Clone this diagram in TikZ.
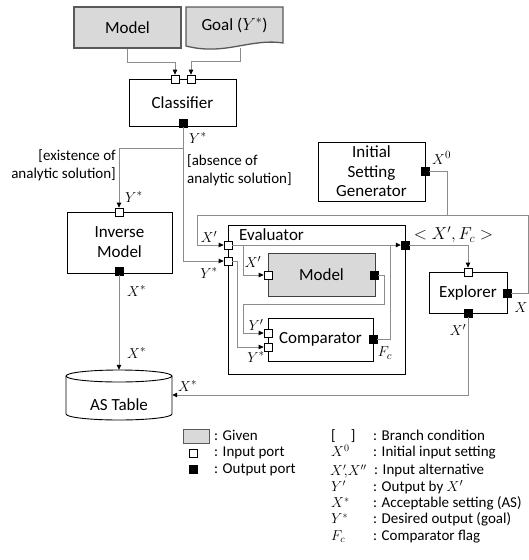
\documentclass[tikz,border=0pt]{standalone}
\usepackage{fontspec}
\setmainfont{Carlito}
\usetikzlibrary{arrows.meta,calc}
\definecolor{givengray}{HTML}{D9D9D9}
\definecolor{linegray}{HTML}{8C8C8C}
\begin{document}
\begin{tikzpicture}[x=1pt,y=-1pt,
  box/.style={draw=black, line width=0.9pt, fill=white, inner sep=0pt, align=center,
              font=\fontsize{17}{20}\selectfont},
  given/.style={box, fill=givengray, draw=black!65, line width=1.3pt},
  inport/.style={draw=black, line width=0.7pt, fill=white, minimum size=8pt, inner sep=0pt},
  outport/.style={draw=black, fill=black, minimum size=8pt, inner sep=0pt},
  conn/.style={draw=linegray, line width=0.8pt},
  arr/.style={conn, -{Triangle[length=5pt,width=4.5pt,color=black]}},
  lbl/.style={font=\fontsize{15}{18}\selectfont, inner sep=1pt},
  txt/.style={font=\fontsize{15}{18}\selectfont, inner sep=0pt},
  leg/.style={font=\fontsize{15}{18}\selectfont, inner sep=0pt, text height=9.5pt, text depth=3pt},
  sym/.style={leg, font=\fontsize{14}{16}\selectfont},
  ]
\useasboundingbox (0,0) rectangle (529,560);

% ---------- given inputs ----------
\node[given, minimum width=107pt, minimum height=41pt] (mtop) at (127.5,27.5) {Model};
\fill[givengray] (186,7) -- (283,7) -- (283,43)
   .. controls (250,38) and (225,56) .. (186,46) -- cycle;
\draw[black!65, line width=1.3pt] (186,7) -- (283,7) -- (283,43)
   .. controls (250,38) and (225,56) .. (186,46) -- cycle;
\node[font=\fontsize{17}{20}\selectfont] (goal) at (234.5,25) {Goal ($Y^*$)};
\coordinate (gout) at (240,47.5);

% ---------- classifier ----------
\node[box, minimum width=107pt, minimum height=47pt] (cls) at (182.5,102.5) {Classifier};
\node[inport] (ci1) at (175,79) {};
\node[inport] (ci2) at (191,79) {};
\node[outport] (co) at (183,123) {};

% ---------- inverse model ----------
\node[box, minimum width=105pt, minimum height=61pt] (inv) at (119.5,242.5) {Inverse\\Model};
\node[inport] (ii) at (119,212) {};
\node[outport] (io) at (119,271) {};

% ---------- initial setting generator ----------
\node[box, minimum width=107pt, minimum height=59pt, font=\fontsize{17}{19.5}\selectfont]
   (isg) at (371.5,171.5) {Initial\\Setting\\Generator};
\node[outport] (iso) at (425,171) {};

% ---------- evaluator ----------
\node[box, minimum width=177pt, minimum height=149pt, line width=0.95pt] (ev) at (316.5,299.5) {};
\node[font=\fontsize{17}{20}\selectfont, anchor=west, inner sep=0pt] (evl) at (239,235) {Evaluator};
\node[given, minimum width=107pt, minimum height=43pt, draw=black!75, line width=1pt]
   (mdl) at (321.5,274.5) {Model};
\node[box, minimum width=105pt, minimum height=43pt] (cmp) at (320.5,339.5) {Comparator};

% ---------- explorer ----------
\node[box, minimum width=78pt, minimum height=41pt] (exp) at (468,292.5) {Explorer};

% ---------- AS table (cylinder) ----------
\node[minimum width=106pt, minimum height=50pt, inner sep=0pt] (astable) at (119,395) {};
\draw[line width=0.9pt, fill=white] (66,376) -- (66,414)
   arc[start angle=180, end angle=360, x radius=53pt, y radius=6pt] -- (172,376);
\draw[line width=0.9pt] (119,376) ellipse [x radius=53pt, y radius=6pt];
\node[font=\fontsize{17}{20}\selectfont] (astext) at (119,405) {AS Table};

% ---------- connectors ----------
\draw[arr] (mtop.south) -- ++(0,13.5) -| (ci1.north);
\draw[arr] (gout) -- ++(0,13.5) -| (ci2.north);

\coordinate (br) at (183,148);
\draw[arr] (br) -| (ii.north);
\draw[arr] (io.south) -- (astable.north);

\coordinate (xr) at (528,215);
\coordinate (xl) at (197,215);
\coordinate (xjoin) at (447,215);
\draw[conn] (iso.east) -| (xjoin);

% evaluator inputs and outputs
\node[inport] (eiX) at (228,245) {};
\node[inport] (eiY) at (228,261) {};
\node[outport] (eo) at (405,245) {};
\draw[arr] (co.south) |- (eiY.west);
\node[inport] (exi) at (468,272) {};
\node[outport] (exr) at (507,293) {};
\node[outport] (exb) at (468,313) {};
\draw[arr] (exr.east) -| (xr) -- (xl) |- (eiX.west);
\draw[arr] (eo.east) -| (exi.north);
\draw[arr] (exb.south) |- (astable.east);

% inside the evaluator
\node[inport] (mi) at (268,275) {};
\node[outport] (mo) at (374,275) {};
\node[inport] (cmi1) at (268,333) {};
\node[inport] (cmi2) at (268,347) {};
\node[outport] (cmo) at (373,339) {};
\coordinate (j1) at (243,245);
\coordinate (j2) at (390,245);
\draw[arr] (eiX.east) -- (eo.west);
\draw[arr] (j1) |- (mi.west);
\draw[arr] (eiY.east) -- ++(5,0) |- (cmi2.west);
\draw[arr] (mo.east) -| (384,304) -- (243,304) |- (cmi1.west);
\draw[conn] (cmo.east) -| (j2);

% ---------- labels ----------
\node[lbl, anchor=west] at (188,138) {$Y^*$};
\node[txt, anchor=east, align=right] at (116,165) {[existence of\\analytic solution]};
\node[txt, anchor=west, align=left] at (187,170) {[absence of\\analytic solution]};
\node[lbl, anchor=west] at (124,197) {$Y^*$};
\node[lbl, anchor=west] at (126,291) {$X^*$};
\node[lbl, anchor=west] at (126,353) {$X^*$};
\node[lbl, anchor=west] at (177,386) {$X^*$};
\node[lbl, anchor=west] at (431,158) {$X^0$};
\node[font=\fontsize{17}{20}\selectfont] at (453.5,235) {$<X',F_c>$};
\node[lbl] at (521,308) {$X$};
\node[lbl] at (458,330) {$X'$};
\node[lbl] at (209,237) {$X'$};
\node[lbl] at (209,273) {$Y^*$};
\node[lbl] at (253,262) {$X'$};
\node[lbl] at (256,325) {$Y'$};
\node[lbl] at (256,357) {$Y^*$};
\node[lbl] at (385,353) {$F_c$};

% ---------- legend ----------
\node[draw=black!65, line width=1pt, fill=givengray, minimum width=26pt, minimum height=14pt,
      inner sep=0pt] (lg1) at (196,436) {};
\node[inport] (lg2) at (193,453) {};
\node[outport] (lg3) at (193,469) {};
\node[leg, anchor=west] at (214,437) {: Given};
\node[leg, anchor=west] at (214,453) {: Input port};
\node[leg, anchor=west] at (214,470) {: Output port};

\node[leg, anchor=west] at (331,437) {[\quad]};
\node[sym, anchor=west] at (331,453) {$X^0$};
\node[sym, anchor=west] at (330,472) {$X'\!,\!X''$};
\node[sym, anchor=west] at (331,488) {$Y'$};
\node[sym, anchor=west] at (331,504) {$X^*$};
\node[sym, anchor=west] at (331,520) {$Y^*$};
\node[sym, anchor=west] at (331,537) {$F_c$};
\node[leg, anchor=west] at (373,437) {: Branch condition};
\node[leg, anchor=west] at (373,453) {: Initial input setting};
\node[leg, anchor=west] at (374,471) {: Input alternative};
\node[leg, anchor=west] at (373,488) {: Output by $X'$};
\node[leg, anchor=west] at (373,504) {: Acceptable setting (AS)};
\node[leg, anchor=west] at (373,520) {: Desired output (goal)};
\node[leg, anchor=west] at (373,537) {: Comparator flag};
\end{tikzpicture}
\end{document}
